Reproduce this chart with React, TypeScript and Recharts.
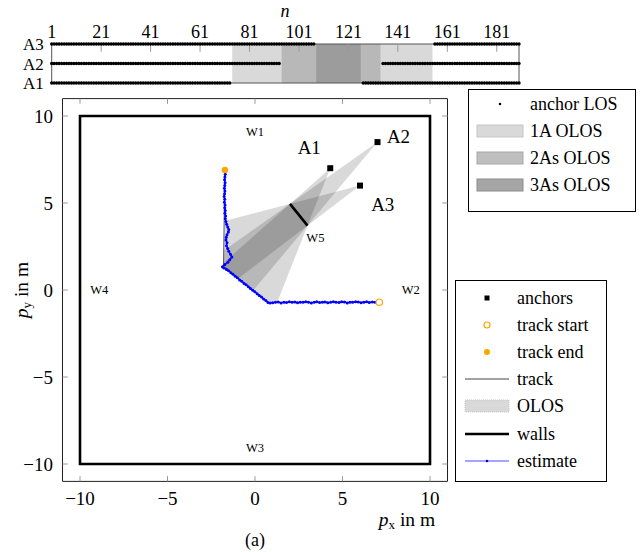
import React from 'react';
import { ComposedChart, Scatter, XAxis, YAxis, ReferenceArea, ReferenceLine } from 'recharts';

const SERIF = '"Liberation Serif", "Times New Roman", serif';

// top strip: LOS / OLOS state of each anchor per time step n
const N_TICKS = [1, 21, 41, 61, 81, 101, 121, 141, 161, 181];
const N_LAST = 190;
const ANCHOR_NAMES = ['A1', 'A2', 'A3'];
const OLOS_FROM = [74, 94, 108];
const OLOS_TO = [126, 134, 155];

// room plot
const AXIS_TICKS = [-10, -5, 0, 5, 10];
const WALLS = [[-10, -10], [10, -10], [10, 10], [-10, 10], [-10, -10]];
const WALL_W5 = [[2.0, 4.95], [3.0, 3.7]];
const ANCHORS = [[4.3, 7.0], [7.0, 8.5], [6.0, 6.0]];
const ANCHOR_LABELS: [number, number, string][] = [[3.1, 8.2, 'A1'], [8.2, 8.8, 'A2'], [7.3, 4.9, 'A3']];
const WALL_LABELS: [number, number, string][] = [[0, 9.1, 'W1'], [8.9, 0, 'W2'], [0, -9.1, 'W3'], [-8.9, 0, 'W4'], [3.45, 3.0, 'W5']];
const TRACK = [[7.1, -0.7], [0.75, -0.72], [-1.8, 1.38], [-1.72, 6.9]];
const OLOS_AREAS = [
  [[4.3, 7.0], [1.27, -0.7], [0.75, -0.72], [-1.8, 1.38], [-1.76, 1.6]],
  [[7.0, 8.5], [-0.08, 0.0], [-1.8, 1.38], [-1.76, 2.29]],
  [[6.0, 6.0], [-0.92, 0.69], [-1.8, 1.38], [-1.75, 3.97]],
];
const ESTIMATE = [
  [7.02, -0.68], [6.85, -0.71], [6.7, -0.69], [6.53, -0.72], [6.38, -0.68], [6.22, -0.7], [6.06, -0.73],
  [5.9, -0.69], [5.75, -0.67], [5.58, -0.71], [5.43, -0.7], [5.27, -0.74], [5.11, -0.69], [4.95, -0.68],
  [4.8, -0.72], [4.63, -0.7], [4.48, -0.67], [4.32, -0.71], [4.16, -0.73], [4.0, -0.69], [3.85, -0.7],
  [3.69, -0.72], [3.53, -0.68], [3.38, -0.7], [3.22, -0.74], [3.06, -0.7], [2.9, -0.67], [2.75, -0.71],
  [2.59, -0.7], [2.43, -0.73], [2.28, -0.69], [2.12, -0.71], [1.96, -0.68], [1.8, -0.72], [1.65, -0.7],
  [1.49, -0.74], [1.33, -0.69], [1.17, -0.71], [1.01, -0.73], [0.86, -0.75], [0.74, -0.72],
  [0.62, -0.6], [0.49, -0.52], [0.37, -0.4], [0.24, -0.31], [0.12, -0.22], [-0.01, -0.1], [-0.13, -0.02],
  [-0.26, 0.09], [-0.38, 0.18], [-0.51, 0.3], [-0.63, 0.38], [-0.76, 0.5], [-0.88, 0.58], [-1.01, 0.7],
  [-1.13, 0.79], [-1.26, 0.9], [-1.38, 0.99], [-1.51, 1.1], [-1.63, 1.18], [-1.78, 1.26], [-1.86, 1.34],
  [-1.72, 1.46], [-1.55, 1.6], [-1.44, 1.74], [-1.32, 1.9], [-1.4, 2.05], [-1.5, 2.22], [-1.56, 2.38],
  [-1.63, 2.55], [-1.6, 2.71], [-1.66, 2.87], [-1.64, 3.03], [-1.6, 3.18], [-1.52, 3.34], [-1.5, 3.48],
  [-1.56, 3.62], [-1.62, 3.78], [-1.66, 3.93], [-1.7, 4.09], [-1.68, 4.25], [-1.72, 4.41], [-1.7, 4.57],
  [-1.73, 4.73], [-1.71, 4.89], [-1.75, 5.05], [-1.73, 5.21], [-1.76, 5.37], [-1.74, 5.53], [-1.72, 5.69],
  [-1.75, 5.85], [-1.73, 6.01], [-1.71, 6.17], [-1.74, 6.33], [-1.72, 6.49], [-1.7, 6.65], [-1.72, 6.81],
  [-1.71, 6.88],
];

const pts = (a: number[][]) => a.map(([x, y]) => ({ x, y }));
const fmt = (v: number) => (v < 0 ? '\u2212' + Math.abs(v) : String(v));
const none = () => <g />;

const losPoints = (i: number) =>
  Array.from({ length: N_LAST }, (_, k) => k + 1)
    .filter(n => n < OLOS_FROM[i] || n > OLOS_TO[i])
    .map(n => ({ x: n, y: i + 1 }));

const polyLine = (p: any) => (
  <path
    d={'M' + p.points.map((q: any) => `${q.x},${q.y}`).join('L') + 'Z'}
    fill="#000"
    fillOpacity={0.15}
    stroke="none"
  />
);

const textShape = (size: number) => (p: any) => (
  <text x={p.cx} y={p.cy} textAnchor="middle" dominantBaseline="central" fontSize={size} fontFamily={SERIF} fill="#000">
    {(p.payload && p.payload.label) || p.label}
  </text>
);

function Strip() {
  return (
    <ComposedChart width={641} height={100} margin={{ top: 14, right: 122, bottom: 17, left: 11.7 }}>
      <XAxis type="number" dataKey="x" orientation="top" domain={[1, N_LAST]} ticks={N_TICKS} interval={0}
        height={30} tickSize={0} tickMargin={6} tickLine={false} axisLine={false}
        tick={{ fontSize: 18, fill: '#000', fontFamily: SERIF }} />
      <YAxis type="number" dataKey="y" domain={[1, 3]} ticks={[1, 2, 3]} interval={0} width={40}
        tickSize={0} tickMargin={8} tickLine={false} axisLine={false}
        tickFormatter={(v: number) => ANCHOR_NAMES[v - 1]}
        tick={{ fontSize: 17, fill: '#000', fontFamily: SERIF }} />
      {OLOS_FROM.map((s, i) => (
        <ReferenceArea key={i} x1={s} x2={OLOS_TO[i]} y1={1} y2={3} fill="#000" fillOpacity={0.15} stroke="none" />
      ))}
      {N_TICKS.slice(1).map(t => (
        <ReferenceLine key={t} segment={[{ x: t, y: 3 }, { x: t, y: 2.6 }]} stroke="#999" />
      ))}
      <ReferenceArea x1={1} x2={N_LAST} y1={1} y2={3} fill="none" stroke="#555" strokeWidth={1} />
      {ANCHOR_NAMES.map((a, i) => (
        <Scatter key={a} data={losPoints(i)} isAnimationActive={false}
          shape={(p: any) => <circle cx={p.cx} cy={p.cy} r={1.7} fill="#000" />} />
      ))}
    </ComposedChart>
  );
}

function Room() {
  return (
    <ComposedChart width={641} height={552} margin={{ top: 98.6, right: 193.5, bottom: 40.6, left: 22.5 }}>
      <XAxis type="number" dataKey="x" domain={[-11, 11]} ticks={AXIS_TICKS} interval={0} height={30}
        tickSize={0} tickMargin={10.5} tickLine={false} axisLine={false} tickFormatter={fmt}
        tick={{ fontSize: 19, fill: '#000', fontFamily: SERIF }} />
      <YAxis type="number" dataKey="y" domain={[-11, 11]} ticks={AXIS_TICKS} interval={0} width={40}
        tickSize={0} tickMargin={9.5} tickLine={false} axisLine={false} tickFormatter={fmt}
        tick={{ fontSize: 19, fill: '#000', fontFamily: SERIF }} />
      {AXIS_TICKS.map(t => (
        <ReferenceLine key={'xb' + t} segment={[{ x: t, y: -11 }, { x: t, y: -10.7 }]} stroke="#999" />
      ))}
      {AXIS_TICKS.map(t => (
        <ReferenceLine key={'xt' + t} segment={[{ x: t, y: 11 }, { x: t, y: 10.7 }]} stroke="#999" />
      ))}
      {AXIS_TICKS.map(t => (
        <ReferenceLine key={'yl' + t} segment={[{ x: -11, y: t }, { x: -10.7, y: t }]} stroke="#999" />
      ))}
      {AXIS_TICKS.map(t => (
        <ReferenceLine key={'yr' + t} segment={[{ x: 11, y: t }, { x: 10.7, y: t }]} stroke="#999" />
      ))}
      <ReferenceArea x1={-11} x2={11} y1={-11} y2={11} fill="none" stroke="#222" strokeWidth={1} />
      {OLOS_AREAS.map((a, i) => (
        <Scatter key={'olos' + i} data={pts(a)} line={polyLine} lineType="joint" shape={none} isAnimationActive={false} />
      ))}
      <Scatter data={pts(TRACK)} line={{ stroke: '#444', strokeWidth: 0.9 }} lineType="joint" shape={none} isAnimationActive={false} />
      <Scatter data={pts(WALLS)} line={{ stroke: '#000', strokeWidth: 2.6, strokeLinecap: 'square' }} lineType="joint" shape={none} isAnimationActive={false} />
      <Scatter data={pts(WALL_W5)} line={{ stroke: '#000', strokeWidth: 2.6 }} lineType="joint" shape={none} isAnimationActive={false} />
      <Scatter data={pts(ESTIMATE)} line={{ stroke: '#0000ff', strokeWidth: 1.3 }} lineType="joint" isAnimationActive={false}
        shape={(p: any) => <circle cx={p.cx} cy={p.cy} r={1.5} fill="#0000ff" />} />
      <Scatter data={pts(ANCHORS)} isAnimationActive={false}
        shape={(p: any) => <rect x={p.cx - 3} y={p.cy - 3} width={6} height={6} fill="#000" />} />
      <Scatter data={pts([TRACK[0]])} isAnimationActive={false}
        shape={(p: any) => <circle cx={p.cx} cy={p.cy} r={3.2} fill="#fff" stroke="#ffa500" strokeWidth={1.2} />} />
      <Scatter data={pts([TRACK[TRACK.length - 1]])} isAnimationActive={false}
        shape={(p: any) => <circle cx={p.cx} cy={p.cy} r={3.2} fill="#ffa500" />} />
      <Scatter data={ANCHOR_LABELS.map(([x, y, label]) => ({ x, y, label }))} isAnimationActive={false} shape={textShape(19)} />
      <Scatter data={WALL_LABELS.map(([x, y, label]) => ({ x, y, label }))} isAnimationActive={false} shape={textShape(12.5)} />
    </ComposedChart>
  );
}

const LEGEND_TOP = ['anchor LOS', '1A OLOS', '2As OLOS', '3As OLOS'];
const LEGEND_MAIN = ['anchors', 'track start', 'track end', 'track', 'OLOS', 'walls', 'estimate'];

function Overlay() {
  const t = { fontFamily: SERIF, fontSize: 18, fill: '#000' } as const;
  const swatch = ['#d9d9d9', '#bfbfbf', '#a6a6a6'];
  const swStroke = ['#c6c6c6', '#a8a8a8', '#8c8c8c'];
  const y1 = [104, 131, 158, 185];
  const y2 = [298, 325, 352, 379, 406, 434, 461];
  return (
    <svg width={641} height={552} style={{ position: 'absolute', left: 0, top: 0, pointerEvents: 'none' }}>
      <text x={285} y={17} textAnchor="middle" fontStyle="italic" {...t}>n</text>
      <g transform="translate(28,290) rotate(-90)">
        <text textAnchor="middle" {...t} fontSize={19.5}>
          <tspan fontStyle="italic">p</tspan>
          <tspan fontSize={13} dy={3}>y</tspan>
          <tspan dy={-3}> in m</tspan>
        </text>
      </g>
      <text x={407} y={526} textAnchor="middle" {...t} fontSize={19.5}>
        <tspan fontStyle="italic">p</tspan>
        <tspan fontSize={13} dy={3}>x</tspan>
        <tspan dy={-3}> in m</tspan>
      </text>
      <text x={255} y={546} textAnchor="middle" {...t}>(a)</text>

      <rect x={468.5} y={89.5} width={167} height={122} fill="#fff" stroke="#000" />
      <circle cx={500} cy={y1[0]} r={1.3} fill="#000" />
      {swatch.map((c, i) => (
        <rect key={c} x={477} y={y1[i + 1] - 6} width={46} height={12} fill={c} stroke={swStroke[i]} />
      ))}
      {LEGEND_TOP.map((s, i) => (
        <text key={s} x={530} y={y1[i]} dominantBaseline="central" {...t}>{s}</text>
      ))}

      <rect x={455.5} y={280.5} width={151} height={201} fill="#fff" stroke="#000" />
      <rect x={484.5} y={y2[0] - 2.5} width={5} height={5} fill="#000" />
      <circle cx={487} cy={y2[1]} r={3} fill="#fff" stroke="#ffa500" strokeWidth={1.2} />
      <circle cx={487} cy={y2[2]} r={3} fill="#ffa500" />
      <line x1={465} x2={509} y1={y2[3]} y2={y2[3]} stroke="#444" strokeWidth={1} />
      <rect x={465} y={y2[4] - 6} width={44} height={12} fill="#d9d9d9" stroke="#c6c6c6" strokeDasharray="1 1" />
      <line x1={465} x2={509} y1={y2[5]} y2={y2[5]} stroke="#000" strokeWidth={2.6} />
      <line x1={465} x2={509} y1={y2[6]} y2={y2[6]} stroke="#4d4dff" strokeWidth={1.2} />
      <circle cx={487} cy={y2[6]} r={1.3} fill="#0000ff" />
      {LEGEND_MAIN.map((s, i) => (
        <text key={s} x={517} y={y2[i]} dominantBaseline="central" {...t}>{s}</text>
      ))}
    </svg>
  );
}

export default function App() {
  return (
    <div style={{ position: 'absolute', left: 0, top: 0, width: 641, height: 552, background: '#fff' }}>
      <div style={{ position: 'absolute', left: 0, top: 0 }}><Room /></div>
      <div style={{ position: 'absolute', left: 0, top: 0 }}><Strip /></div>
      <Overlay />
    </div>
  );
}
